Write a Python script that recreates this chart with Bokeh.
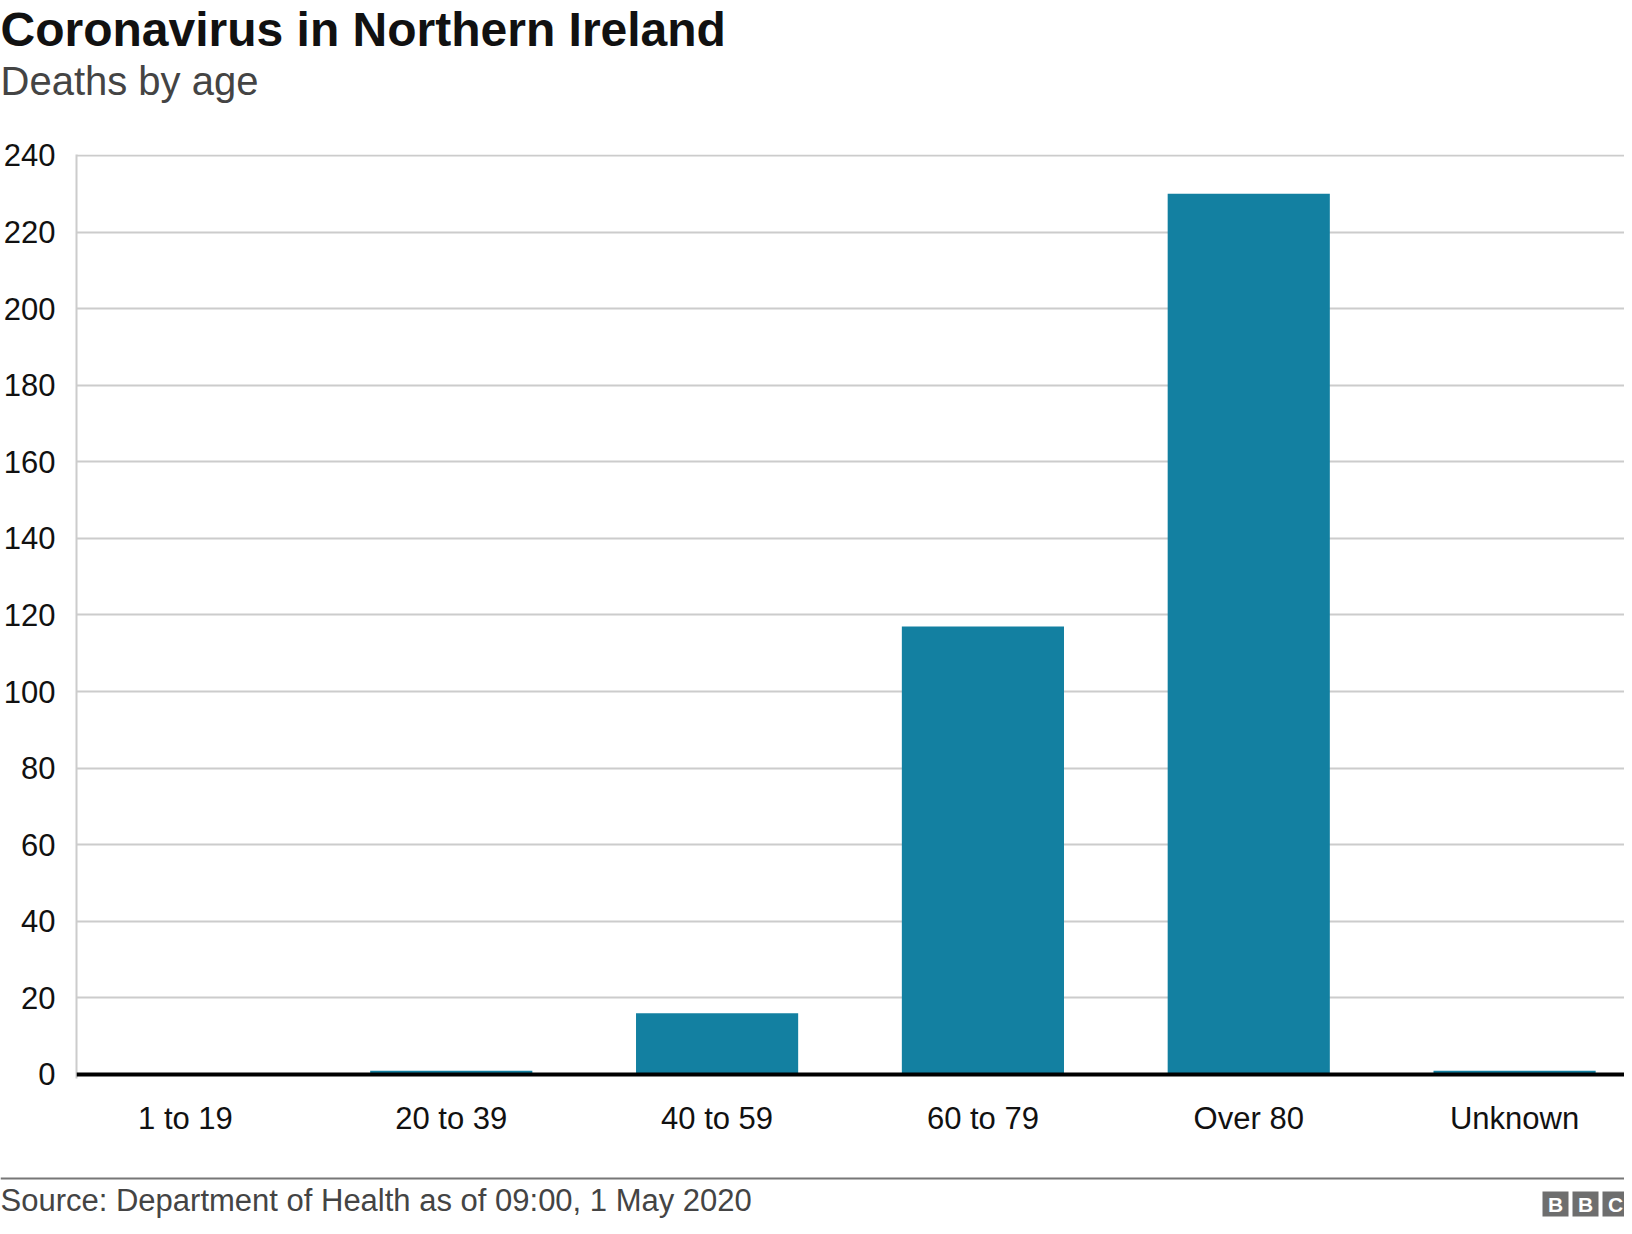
from bokeh.plotting import figure
from bokeh.models import Range1d, FixedTicker, Span
from bokeh.layouts import column, row
from bokeh.core.properties import value
from bokeh.embed import file_html
from bokeh.resources import INLINE

# ---- data ----
categories = ["1 to 19", "20 to 39", "40 to 59", "60 to 79", "Over 80", "Unknown"]
deaths = [0, 1, 16, 117, 230, 1]
y_ticks = [0, 20, 40, 60, 80, 100, 120, 140, 160, 180, 200, 220, 240]

title_text = "Coronavirus in Northern Ireland"
subtitle_text = "Deaths by age"
source_text = "Source: Department of Health as of 09:00, 1 May 2020"
logo_letters = ["B", "B", "C"]

FONT = "Liberation Sans"
BAR = "#1380A1"

W = 1624
H_HEAD, H_MAIN, H_FOOT = 130, 1030, 58


def blank(h):
    f = figure(width=W, height=h, output_backend="svg", toolbar_location=None,
               x_range=Range1d(0, W), y_range=Range1d(h, 0),
               x_axis_type=None, y_axis_type=None,
               min_border=0, min_border_left=0, min_border_right=0,
               min_border_top=0, min_border_bottom=0)
    f.outline_line_color = None
    f.grid.visible = False
    f.background_fill_color = "white"
    f.border_fill_color = "white"
    return f


# ---- header ----
head = blank(H_HEAD)
head.text(x=[0], y=[29], text=[title_text], text_font=value(FONT),
          text_font_size="48px", text_font_style="bold", text_color="#111111",
          text_baseline="alphabetic", text_align="left")
head.text(x=[0], y=[80], text=[subtitle_text], text_font=value(FONT),
          text_font_size="40px", text_color="#444444",
          text_baseline="alphabetic", text_align="left")

# ---- main chart ----
positions = list(range(len(categories)))
p = figure(width=W, height=H_MAIN, output_backend="svg", toolbar_location=None,
           x_range=Range1d(-0.4098, 5.4135), y_range=Range1d(-1.05, 240.26),
           min_border_left=75, min_border_right=0, min_border_top=24,
           min_border_bottom=82)
p.outline_line_color = None
p.background_fill_color = "white"
p.border_fill_color = "white"

p.vbar(x=positions, top=deaths, bottom=0, width=0.61, color=BAR, line_color=None)
p.add_layout(Span(location=0, dimension="width", line_color="black", line_width=4))

p.xgrid.grid_line_color = None
p.ygrid.grid_line_color = "#cccccc"
p.ygrid.grid_line_width = 2
p.yaxis.ticker = FixedTicker(ticks=y_ticks)
p.xaxis.ticker = FixedTicker(ticks=positions)
p.xaxis.major_label_overrides = {i: c for i, c in zip(positions, categories)}

for ax in (p.xaxis[0], p.yaxis[0]):
    ax.major_tick_line_color = None
    ax.minor_tick_line_color = None
    ax.major_tick_out = 0
    ax.major_tick_in = 0
    ax.major_label_text_font = FONT
    ax.major_label_text_font_size = "31px"
    ax.major_label_text_color = "#111111"

p.xaxis.axis_line_color = None
p.xaxis.major_label_standoff = 22
p.yaxis.axis_line_color = "#cccccc"
p.yaxis.axis_line_width = 2
p.yaxis.major_label_standoff = 21

# ---- footer ----
foot = blank(H_FOOT)
foot.quad(left=[0], right=[W], top=[17], bottom=[19], color="#777777", line_color=None)
foot.text(x=[0], y=[40], text=[source_text], text_font=value(FONT),
          text_font_size="31px", text_color="#444444",
          text_baseline="alphabetic", text_align="left")
lx = [1542 + 30 * i for i in range(len(logo_letters))]
foot.quad(left=lx, right=[x + 26 for x in lx], top=[31] * 3, bottom=[56] * 3,
          color="#6e6e6e", line_color=None)
foot.text(x=[x + 13 for x in lx], y=[44] * 3, text=logo_letters, text_font=value(FONT),
          text_font_size="21px", text_font_style="bold", text_color="white",
          text_baseline="middle", text_align="center")

layout = column(row(head), p, row(foot), spacing=0)
open("out.html", "w").write(file_html(layout, INLINE))
